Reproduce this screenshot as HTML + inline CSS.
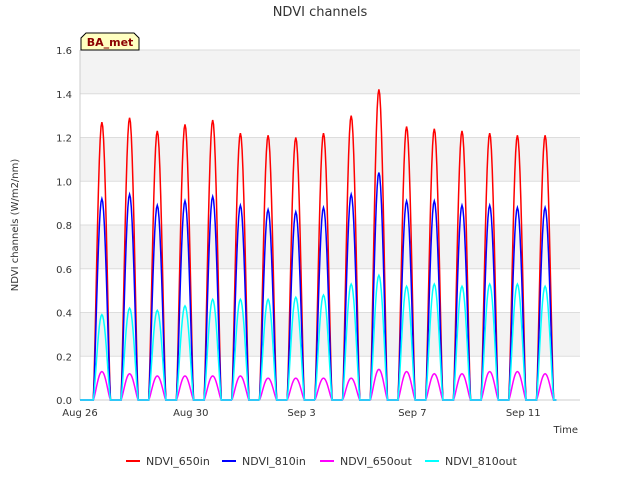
<!DOCTYPE html>
<html><head><meta charset="utf-8"><style>
body{margin:0;background:#fff;font-family:"Liberation Sans","DejaVu Sans",sans-serif}
</style></head><body>
<svg id="c" width="640" height="480" xmlns="http://www.w3.org/2000/svg" font-family="DejaVu Sans, Liberation Sans, sans-serif">
<rect width="640" height="480" fill="#fff"/>
<g id="bands"></g>
<text x="320" y="16" text-anchor="middle" font-size="13" fill="#333">NDVI channels</text>
<text x="18" y="225" text-anchor="middle" font-size="10" fill="#333" transform="rotate(-90 18 225)">NDVI channels (W/m2/nm)</text>
<text x="578" y="433" text-anchor="end" font-size="10" fill="#333">Time</text>
<g id="yt"></g><g id="xt"></g><g id="lines"></g>
<g>
<path d="M81,50 L81,38 L86,33 L134,33 L139,38 L139,50 Z" fill="#ffffc0" stroke="#000" stroke-width="1"/>
<text x="110" y="46" text-anchor="middle" font-size="11" font-weight="bold" fill="#8b0000">BA_met</text>
</g>
<g id="legend"></g>
</svg>
<script>
const days=[0,1,2,3,4,5,6,7,8,9,10,11,12,13,14,15,16];
const in650=[1.27,1.29,1.23,1.26,1.28,1.22,1.21,1.20,1.22,1.30,1.42,1.25,1.24,1.23,1.22,1.21,1.21];
const in810=[0.92,0.94,0.89,0.91,0.93,0.89,0.87,0.86,0.88,0.94,1.04,0.91,0.91,0.89,0.89,0.88,0.88];
const out650=[0.13,0.12,0.11,0.11,0.11,0.11,0.10,0.10,0.10,0.10,0.14,0.13,0.12,0.12,0.13,0.13,0.12];
const out810=[0.39,0.42,0.41,0.43,0.46,0.46,0.46,0.47,0.48,0.53,0.57,0.52,0.53,0.52,0.53,0.53,0.52];
const yTicks=[0,0.2,0.4,0.6,0.8,1.0,1.2,1.4,1.6];
const xTickDays=[0,4,8,12,16];
const xTickLabels=["Aug 26","Aug 30","Sep 3","Sep 7","Sep 11"];
const NS="http://www.w3.org/2000/svg";
const X0=80,X1=580,Y0=400,Y1=50,DMAX=18.05;
const x=d=>X0+d/DMAX*(X1-X0), y=v=>Y0-v/1.6*(Y0-Y1);
function mk(t,a,p){const e=document.createElementNS(NS,t);for(const k in a)e.setAttribute(k,a[k]);document.getElementById(p).appendChild(e);return e;}
for(let i=0;i<8;i++){const r=mk('rect',{x:X0,y:y(yTicks[i+1]),width:X1-X0,height:y(yTicks[i])-y(yTicks[i+1]),fill:i%2?'#f3f3f3':'#fff'},'bands');
}
yTicks.forEach(v=>{const l=mk('line',{x1:X0,x2:X1,y1:y(v),y2:y(v),stroke:'#ddd'},'yt');

const t=mk('text',{x:X0-8,y:y(v)+4,'text-anchor':'end','font-size':10,fill:'#333'},'yt');t.textContent=v.toFixed(1);
});
mk('line',{x1:X0,x2:X0,y1:Y1,y2:Y0,stroke:'#ccc'},'yt');
mk('line',{x1:X0,x2:X1,y1:Y0,y2:Y0,stroke:'#ccc'},'yt');
xTickDays.forEach((d,i)=>{const t=mk('text',{x:x(d),y:Y0+16,'text-anchor':'middle','font-size':10,fill:'#333'},'xt');t.textContent=xTickLabels[i];
});
function series(vals,col,name){let p='';const pk=0.79,hw=0.31;
p+=`M${x(0)},${y(0)}`;
days.forEach((d,i)=>{const c=d+pk;p+=` L${x(c-hw)},${y(0)}`;
for(let k=0;k<=20;k++){const t=c-hw+2*hw*k/20;const s=Math.sin(Math.PI*k/20);p+=` L${x(t).toFixed(2)},${y(vals[i]*Math.pow(s,1.3)).toFixed(2)}`;}});
p+=` L${x(17.2)},${y(0)}`;
const e=mk('path',{d:p,fill:'none',stroke:col,'stroke-width':1.5},'lines');
}
series(in650,'#ff0000','series-ndvi-650in');
series(in810,'#0000ff','series-ndvi-810in');
series(out650,'#ff00ff','series-ndvi-650out');
series(out810,'#00ffff','series-ndvi-810out');
const leg=[["NDVI_650in","#ff0000",126],["NDVI_810in","#0000ff",222],["NDVI_650out","#ff00ff",320],["NDVI_810out","#00ffff",425]];
leg.forEach(l=>{const g=mk('g',{},'legend');
const ln=document.createElementNS(NS,'line');ln.setAttribute('x1',l[2]);ln.setAttribute('x2',l[2]+14);ln.setAttribute('y1',461);ln.setAttribute('y2',461);ln.setAttribute('stroke',l[1]);ln.setAttribute('stroke-width',2);g.appendChild(ln);
const t=document.createElementNS(NS,'text');t.setAttribute('x',l[2]+20);t.setAttribute('y',465);t.setAttribute('font-size',11);t.setAttribute('fill','#333');t.textContent=l[0];g.appendChild(t);});
</script>
</body></html>
